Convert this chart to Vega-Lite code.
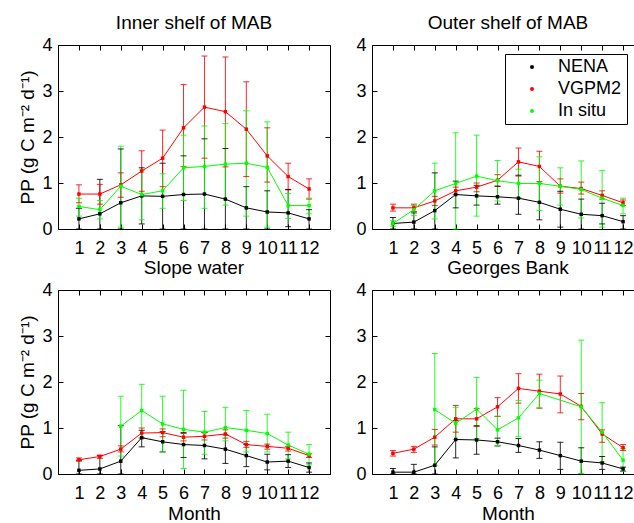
{
"$schema": "https://vega.github.io/schema/vega-lite/v6.json",
"padding": {"left": 18, "top": 13, "right": 0, "bottom": 5},
"background": "white",
"datasets": {
"pp": [
{"r":"I","s":"NENA","m":1,"v":0.22,"lo":0.0,"hi":0.45},
{"r":"I","s":"NENA","m":2,"v":0.33,"lo":0.0,"hi":1.08},
{"r":"I","s":"NENA","m":3,"v":0.57,"lo":0.0,"hi":1.74},
{"r":"I","s":"NENA","m":4,"v":0.72,"lo":0.11,"hi":1.33},
{"r":"I","s":"NENA","m":5,"v":0.71,"lo":0.0,"hi":1.43},
{"r":"I","s":"NENA","m":6,"v":0.75,"lo":0.0,"hi":1.59},
{"r":"I","s":"NENA","m":7,"v":0.76,"lo":0.0,"hi":1.96},
{"r":"I","s":"NENA","m":8,"v":0.65,"lo":0.0,"hi":1.75},
{"r":"I","s":"NENA","m":9,"v":0.46,"lo":0.0,"hi":0.92},
{"r":"I","s":"NENA","m":10,"v":0.37,"lo":0.0,"hi":0.83},
{"r":"I","s":"NENA","m":11,"v":0.35,"lo":0.05,"hi":0.86},
{"r":"I","s":"NENA","m":12,"v":0.22,"lo":0.0,"hi":0.42},
{"r":"I","s":"VGPM2","m":1,"v":0.76,"lo":0.57,"hi":0.96},
{"r":"I","s":"VGPM2","m":2,"v":0.76,"lo":0.54,"hi":0.97},
{"r":"I","s":"VGPM2","m":3,"v":0.96,"lo":0.69,"hi":1.22},
{"r":"I","s":"VGPM2","m":4,"v":1.26,"lo":0.82,"hi":1.70},
{"r":"I","s":"VGPM2","m":5,"v":1.54,"lo":0.92,"hi":2.15},
{"r":"I","s":"VGPM2","m":6,"v":2.20,"lo":1.36,"hi":3.14},
{"r":"I","s":"VGPM2","m":7,"v":2.65,"lo":1.54,"hi":3.76},
{"r":"I","s":"VGPM2","m":8,"v":2.55,"lo":1.35,"hi":3.74},
{"r":"I","s":"VGPM2","m":9,"v":2.17,"lo":1.14,"hi":3.20},
{"r":"I","s":"VGPM2","m":10,"v":1.59,"lo":1.02,"hi":2.20},
{"r":"I","s":"VGPM2","m":11,"v":1.14,"lo":0.85,"hi":1.43},
{"r":"I","s":"VGPM2","m":12,"v":0.87,"lo":0.65,"hi":1.09},
{"r":"I","s":"In situ","m":1,"v":0.49,"lo":0.28,"hi":0.67},
{"r":"I","s":"In situ","m":2,"v":0.42,"lo":0.22,"hi":0.62},
{"r":"I","s":"In situ","m":3,"v":0.93,"lo":0.04,"hi":1.80},
{"r":"I","s":"In situ","m":4,"v":0.75,"lo":0.20,"hi":1.28},
{"r":"I","s":"In situ","m":5,"v":0.83,"lo":0.45,"hi":1.20},
{"r":"I","s":"In situ","m":6,"v":1.33,"lo":0.62,"hi":2.04},
{"r":"I","s":"In situ","m":7,"v":1.36,"lo":0.45,"hi":2.24},
{"r":"I","s":"In situ","m":8,"v":1.41,"lo":0.52,"hi":2.29},
{"r":"I","s":"In situ","m":9,"v":1.43,"lo":0.28,"hi":2.57},
{"r":"I","s":"In situ","m":10,"v":1.34,"lo":0.04,"hi":2.33},
{"r":"I","s":"In situ","m":11,"v":0.51,"lo":0.23,"hi":0.77},
{"r":"I","s":"In situ","m":12,"v":0.51,"lo":0.33,"hi":0.67},
{"r":"O","s":"NENA","m":1,"v":0.12,"lo":0.0,"hi":0.25},
{"r":"O","s":"NENA","m":2,"v":0.15,"lo":0.0,"hi":0.35},
{"r":"O","s":"NENA","m":3,"v":0.40,"lo":0.0,"hi":1.22},
{"r":"O","s":"NENA","m":4,"v":0.75,"lo":0.46,"hi":1.04},
{"r":"O","s":"NENA","m":5,"v":0.72,"lo":0.52,"hi":0.95},
{"r":"O","s":"NENA","m":6,"v":0.70,"lo":0.54,"hi":0.93},
{"r":"O","s":"NENA","m":7,"v":0.67,"lo":0.32,"hi":1.17},
{"r":"O","s":"NENA","m":8,"v":0.58,"lo":0.20,"hi":0.99},
{"r":"O","s":"NENA","m":9,"v":0.43,"lo":0.04,"hi":0.82},
{"r":"O","s":"NENA","m":10,"v":0.32,"lo":0.0,"hi":0.65},
{"r":"O","s":"NENA","m":11,"v":0.29,"lo":0.11,"hi":0.56},
{"r":"O","s":"NENA","m":12,"v":0.16,"lo":0.0,"hi":0.29},
{"r":"O","s":"VGPM2","m":1,"v":0.46,"lo":0.39,"hi":0.54},
{"r":"O","s":"VGPM2","m":2,"v":0.46,"lo":0.38,"hi":0.54},
{"r":"O","s":"VGPM2","m":3,"v":0.61,"lo":0.51,"hi":0.71},
{"r":"O","s":"VGPM2","m":4,"v":0.83,"lo":0.75,"hi":0.91},
{"r":"O","s":"VGPM2","m":5,"v":0.91,"lo":0.81,"hi":1.00},
{"r":"O","s":"VGPM2","m":6,"v":1.06,"lo":0.93,"hi":1.18},
{"r":"O","s":"VGPM2","m":7,"v":1.46,"lo":1.15,"hi":1.76},
{"r":"O","s":"VGPM2","m":8,"v":1.36,"lo":1.03,"hi":1.69},
{"r":"O","s":"VGPM2","m":9,"v":0.93,"lo":0.78,"hi":1.09},
{"r":"O","s":"VGPM2","m":10,"v":0.88,"lo":0.76,"hi":1.02},
{"r":"O","s":"VGPM2","m":11,"v":0.73,"lo":0.65,"hi":0.83},
{"r":"O","s":"VGPM2","m":12,"v":0.57,"lo":0.51,"hi":0.63},
{"r":"O","s":"In situ","m":1,"v":0.12,"lo":0.06,"hi":0.18},
{"r":"O","s":"In situ","m":2,"v":0.42,"lo":0.29,"hi":0.51},
{"r":"O","s":"In situ","m":3,"v":0.83,"lo":0.22,"hi":1.43},
{"r":"O","s":"In situ","m":4,"v":0.99,"lo":0.0,"hi":2.09},
{"r":"O","s":"In situ","m":5,"v":1.15,"lo":0.28,"hi":2.04},
{"r":"O","s":"In situ","m":6,"v":1.05,"lo":0.61,"hi":1.49},
{"r":"O","s":"In situ","m":7,"v":0.99,"lo":0.68,"hi":1.30},
{"r":"O","s":"In situ","m":8,"v":0.99,"lo":0.40,"hi":1.57},
{"r":"O","s":"In situ","m":9,"v":0.93,"lo":0.52,"hi":1.33},
{"r":"O","s":"In situ","m":10,"v":0.86,"lo":0.24,"hi":1.48},
{"r":"O","s":"In situ","m":11,"v":0.67,"lo":0.04,"hi":1.27},
{"r":"O","s":"In situ","m":12,"v":0.51,"lo":0.33,"hi":0.67},
{"r":"S","s":"NENA","m":1,"v":0.08,"lo":0.0,"hi":0.30},
{"r":"S","s":"NENA","m":2,"v":0.11,"lo":0.0,"hi":0.40},
{"r":"S","s":"NENA","m":3,"v":0.28,"lo":0.0,"hi":1.05},
{"r":"S","s":"NENA","m":4,"v":0.79,"lo":0.59,"hi":0.95},
{"r":"S","s":"NENA","m":5,"v":0.70,"lo":0.48,"hi":0.92},
{"r":"S","s":"NENA","m":6,"v":0.64,"lo":0.36,"hi":0.90},
{"r":"S","s":"NENA","m":7,"v":0.62,"lo":0.33,"hi":0.90},
{"r":"S","s":"NENA","m":8,"v":0.54,"lo":0.23,"hi":0.85},
{"r":"S","s":"NENA","m":9,"v":0.40,"lo":0.16,"hi":0.64},
{"r":"S","s":"NENA","m":10,"v":0.26,"lo":0.09,"hi":0.43},
{"r":"S","s":"NENA","m":11,"v":0.28,"lo":0.14,"hi":0.42},
{"r":"S","s":"NENA","m":12,"v":0.14,"lo":0.04,"hi":0.24},
{"r":"S","s":"VGPM2","m":1,"v":0.31,"lo":0.28,"hi":0.35},
{"r":"S","s":"VGPM2","m":2,"v":0.38,"lo":0.34,"hi":0.41},
{"r":"S","s":"VGPM2","m":3,"v":0.54,"lo":0.48,"hi":0.61},
{"r":"S","s":"VGPM2","m":4,"v":0.89,"lo":0.78,"hi":1.00},
{"r":"S","s":"VGPM2","m":5,"v":0.90,"lo":0.81,"hi":0.98},
{"r":"S","s":"VGPM2","m":6,"v":0.80,"lo":0.72,"hi":0.88},
{"r":"S","s":"VGPM2","m":7,"v":0.82,"lo":0.74,"hi":0.90},
{"r":"S","s":"VGPM2","m":8,"v":0.87,"lo":0.78,"hi":0.96},
{"r":"S","s":"VGPM2","m":9,"v":0.64,"lo":0.58,"hi":0.71},
{"r":"S","s":"VGPM2","m":10,"v":0.60,"lo":0.54,"hi":0.65},
{"r":"S","s":"VGPM2","m":11,"v":0.56,"lo":0.50,"hi":0.60},
{"r":"S","s":"VGPM2","m":12,"v":0.40,"lo":0.36,"hi":0.44},
{"r":"S","s":"In situ","m":3,"v":1.04,"lo":0.39,"hi":1.69},
{"r":"S","s":"In situ","m":4,"v":1.38,"lo":0.79,"hi":1.95},
{"r":"S","s":"In situ","m":5,"v":1.09,"lo":0.48,"hi":1.69},
{"r":"S","s":"In situ","m":6,"v":0.97,"lo":0.12,"hi":1.82},
{"r":"S","s":"In situ","m":7,"v":0.91,"lo":0.43,"hi":1.36},
{"r":"S","s":"In situ","m":8,"v":1.01,"lo":0.72,"hi":1.45},
{"r":"S","s":"In situ","m":9,"v":0.95,"lo":0.48,"hi":1.38},
{"r":"S","s":"In situ","m":10,"v":0.88,"lo":0.48,"hi":1.30},
{"r":"S","s":"In situ","m":11,"v":0.63,"lo":0.33,"hi":0.91},
{"r":"S","s":"In situ","m":12,"v":0.43,"lo":0.20,"hi":0.64},
{"r":"G","s":"NENA","m":1,"v":0.04,"lo":0.0,"hi":0.12},
{"r":"G","s":"NENA","m":2,"v":0.04,"lo":0.0,"hi":0.21},
{"r":"G","s":"NENA","m":3,"v":0.19,"lo":0.0,"hi":0.59},
{"r":"G","s":"NENA","m":4,"v":0.75,"lo":0.35,"hi":1.16},
{"r":"G","s":"NENA","m":5,"v":0.74,"lo":0.43,"hi":1.05},
{"r":"G","s":"NENA","m":6,"v":0.70,"lo":0.61,"hi":0.78},
{"r":"G","s":"NENA","m":7,"v":0.62,"lo":0.47,"hi":0.77},
{"r":"G","s":"NENA","m":8,"v":0.52,"lo":0.34,"hi":0.70},
{"r":"G","s":"NENA","m":9,"v":0.40,"lo":0.10,"hi":0.69},
{"r":"G","s":"NENA","m":10,"v":0.28,"lo":0.0,"hi":0.57},
{"r":"G","s":"NENA","m":11,"v":0.24,"lo":0.10,"hi":0.38},
{"r":"G","s":"NENA","m":12,"v":0.11,"lo":0.06,"hi":0.15},
{"r":"G","s":"VGPM2","m":1,"v":0.45,"lo":0.39,"hi":0.51},
{"r":"G","s":"VGPM2","m":2,"v":0.54,"lo":0.47,"hi":0.60},
{"r":"G","s":"VGPM2","m":3,"v":0.80,"lo":0.63,"hi":0.97},
{"r":"G","s":"VGPM2","m":4,"v":1.20,"lo":0.91,"hi":1.49},
{"r":"G","s":"VGPM2","m":5,"v":1.20,"lo":1.03,"hi":1.42},
{"r":"G","s":"VGPM2","m":6,"v":1.46,"lo":1.25,"hi":1.66},
{"r":"G","s":"VGPM2","m":7,"v":1.86,"lo":1.54,"hi":2.18},
{"r":"G","s":"VGPM2","m":8,"v":1.80,"lo":1.43,"hi":2.17},
{"r":"G","s":"VGPM2","m":9,"v":1.74,"lo":1.33,"hi":2.13},
{"r":"G","s":"VGPM2","m":10,"v":1.47,"lo":1.18,"hi":1.75},
{"r":"G","s":"VGPM2","m":11,"v":0.87,"lo":0.69,"hi":0.96},
{"r":"G","s":"VGPM2","m":12,"v":0.57,"lo":0.51,"hi":0.64},
{"r":"G","s":"In situ","m":3,"v":1.40,"lo":0.19,"hi":2.62},
{"r":"G","s":"In situ","m":4,"v":1.10,"lo":0.75,"hi":1.45},
{"r":"G","s":"In situ","m":5,"v":1.41,"lo":0.77,"hi":2.10},
{"r":"G","s":"In situ","m":6,"v":0.96,"lo":0.62,"hi":1.26},
{"r":"G","s":"In situ","m":7,"v":1.22,"lo":0.81,"hi":1.60},
{"r":"G","s":"In situ","m":8,"v":1.75,"lo":1.44,"hi":2.04},
{"r":"G","s":"In situ","m":10,"v":1.46,"lo":0.01,"hi":2.91},
{"r":"G","s":"In situ","m":11,"v":0.91,"lo":0.26,"hi":1.55},
{"r":"G","s":"In situ","m":12,"v":0.30,"lo":0.06,"hi":0.55}
]
},
"data": {"name": "pp"},
"columns": 2,
"spacing": {"row": 0, "column": 24},
"resolve": {"legend": {"color": "independent"}},
"concat": [
{
 "width": 272, "height": 184,
 "title": "Inner shelf of MAB",
 "transform": [{"filter": "datum.r == 'I'"}],
 "layer": [
  {"mark": {"type": "rule", "strokeWidth": 1, "opacity": 0.85},
   "encoding": {
    "x": {"field": "m", "type": "quantitative", "scale": {"domain": [0, 13], "nice": false}, "axis": {"values": [1,2,3,4,5,6,7,8,9,10,11,12], "title": null}},
    "y": {"field": "lo", "type": "quantitative", "scale": {"domain": [0, 4], "nice": false}, "axis": {"values": [0,1,2,3,4], "title": "PP (g C m⁻² d⁻¹)"}},
    "y2": {"field": "hi"},
    "stroke": {"field": "s", "type": "nominal", "scale": {"domain": ["NENA","VGPM2","In situ"], "range": ["#000000","#ff0000","#00ff00"]}, "legend": null}}},
  {"mark": {"type": "tick", "orient": "horizontal", "size": 6, "thickness": 1, "opacity": 0.85},
   "encoding": {
    "x": {"field": "m", "type": "quantitative", "axis": {"orient": "top", "values": [1,2,3,4,5,6,7,8,9,10,11,12], "labels": false, "title": null, "domain": false}},
    "y": {"field": "lo", "type": "quantitative", "axis": {"orient": "right", "values": [0,1,2,3,4], "labels": false, "title": null, "domain": false}},
    "fill": {"field": "s", "type": "nominal", "scale": {"domain": ["NENA","VGPM2","In situ"], "range": ["#000000","#ff0000","#00ff00"]}, "legend": null}}},
  {"mark": {"type": "tick", "orient": "horizontal", "size": 6, "thickness": 1, "opacity": 0.85},
   "encoding": {
    "x": {"field": "m", "type": "quantitative", "axis": null},
    "y": {"field": "hi", "type": "quantitative", "axis": null},
    "fill": {"field": "s", "type": "nominal", "legend": null}}},
  {"mark": {"type": "line", "strokeWidth": 1},
   "encoding": {
    "x": {"field": "m", "type": "quantitative", "axis": null},
    "y": {"field": "v", "type": "quantitative", "axis": null},
    "stroke": {"field": "s", "type": "nominal", "legend": null}}},
  {"mark": {"type": "point", "filled": true, "shape": "square", "size": 12, "opacity": 1},
   "encoding": {
    "x": {"field": "m", "type": "quantitative", "axis": null},
    "y": {"field": "v", "type": "quantitative", "axis": null},
    "color": {"field": "s", "type": "nominal", "scale": {"domain": ["NENA","VGPM2","In situ"], "range": ["#000000","#ff0000","#00ff00"]}, "legend": null}}}
 ],
 "resolve": {"axis": {"x": "independent", "y": "independent"}}
},
{
 "width": 272, "height": 184,
 "title": "Outer shelf of MAB",
 "transform": [{"filter": "datum.r == 'O'"}],
 "layer": [
  {"mark": {"type": "rule", "strokeWidth": 1, "opacity": 0.85},
   "encoding": {
    "x": {"field": "m", "type": "quantitative", "scale": {"domain": [0, 13], "nice": false}, "axis": {"values": [1,2,3,4,5,6,7,8,9,10,11,12], "title": null}},
    "y": {"field": "lo", "type": "quantitative", "scale": {"domain": [0, 4], "nice": false}, "axis": {"values": [0,1,2,3,4], "title": null}},
    "y2": {"field": "hi"},
    "stroke": {"field": "s", "type": "nominal", "legend": null}}},
  {"mark": {"type": "tick", "orient": "horizontal", "size": 6, "thickness": 1, "opacity": 0.85},
   "encoding": {
    "x": {"field": "m", "type": "quantitative", "axis": {"orient": "top", "values": [1,2,3,4,5,6,7,8,9,10,11,12], "labels": false, "title": null, "domain": false}},
    "y": {"field": "lo", "type": "quantitative", "axis": {"orient": "right", "values": [0,1,2,3,4], "labels": false, "title": null, "domain": false}},
    "fill": {"field": "s", "type": "nominal", "legend": null}}},
  {"mark": {"type": "tick", "orient": "horizontal", "size": 6, "thickness": 1, "opacity": 0.85},
   "encoding": {
    "x": {"field": "m", "type": "quantitative", "axis": null},
    "y": {"field": "hi", "type": "quantitative", "axis": null},
    "fill": {"field": "s", "type": "nominal", "legend": null}}},
  {"mark": {"type": "line", "strokeWidth": 1},
   "encoding": {
    "x": {"field": "m", "type": "quantitative", "axis": null},
    "y": {"field": "v", "type": "quantitative", "axis": null},
    "stroke": {"field": "s", "type": "nominal", "legend": null}}},
  {"mark": {"type": "point", "filled": true, "shape": "square", "size": 12, "opacity": 1},
   "encoding": {
    "x": {"field": "m", "type": "quantitative", "axis": null},
    "y": {"field": "v", "type": "quantitative", "axis": null},
    "color": {"field": "s", "type": "nominal", "legend": {"title": "\u00a0", "titleOrient": "right", "titlePadding": 2, "titleFontSize": 18, "orient": "none", "legendX": 133, "legendY": 9}}}}
 ],
 "resolve": {"axis": {"x": "independent", "y": "independent"}}
},
{
 "width": 272, "height": 184,
 "title": "Slope water",
 "transform": [{"filter": "datum.r == 'S'"}],
 "layer": [
  {"mark": {"type": "rule", "strokeWidth": 1, "opacity": 0.85},
   "encoding": {
    "x": {"field": "m", "type": "quantitative", "scale": {"domain": [0, 13], "nice": false}, "axis": {"values": [1,2,3,4,5,6,7,8,9,10,11,12], "title": "Month"}},
    "y": {"field": "lo", "type": "quantitative", "scale": {"domain": [0, 4], "nice": false}, "axis": {"values": [0,1,2,3,4], "title": "PP (g C m⁻² d⁻¹)"}},
    "y2": {"field": "hi"},
    "stroke": {"field": "s", "type": "nominal", "legend": null}}},
  {"mark": {"type": "tick", "orient": "horizontal", "size": 6, "thickness": 1, "opacity": 0.85},
   "encoding": {
    "x": {"field": "m", "type": "quantitative", "axis": {"orient": "top", "values": [1,2,3,4,5,6,7,8,9,10,11,12], "labels": false, "title": null, "domain": false}},
    "y": {"field": "lo", "type": "quantitative", "axis": {"orient": "right", "values": [0,1,2,3,4], "labels": false, "title": null, "domain": false}},
    "fill": {"field": "s", "type": "nominal", "legend": null}}},
  {"mark": {"type": "tick", "orient": "horizontal", "size": 6, "thickness": 1, "opacity": 0.85},
   "encoding": {
    "x": {"field": "m", "type": "quantitative", "axis": null},
    "y": {"field": "hi", "type": "quantitative", "axis": null},
    "fill": {"field": "s", "type": "nominal", "legend": null}}},
  {"mark": {"type": "line", "strokeWidth": 1},
   "encoding": {
    "x": {"field": "m", "type": "quantitative", "axis": null},
    "y": {"field": "v", "type": "quantitative", "axis": null},
    "stroke": {"field": "s", "type": "nominal", "legend": null}}},
  {"mark": {"type": "point", "filled": true, "shape": "square", "size": 12, "opacity": 1},
   "encoding": {
    "x": {"field": "m", "type": "quantitative", "axis": null},
    "y": {"field": "v", "type": "quantitative", "axis": null},
    "color": {"field": "s", "type": "nominal", "legend": null}}}
 ],
 "resolve": {"axis": {"x": "independent", "y": "independent"}}
},
{
 "width": 272, "height": 184,
 "title": "Georges Bank",
 "transform": [{"filter": "datum.r == 'G'"}],
 "layer": [
  {"mark": {"type": "rule", "strokeWidth": 1, "opacity": 0.85},
   "encoding": {
    "x": {"field": "m", "type": "quantitative", "scale": {"domain": [0, 13], "nice": false}, "axis": {"values": [1,2,3,4,5,6,7,8,9,10,11,12], "title": "Month"}},
    "y": {"field": "lo", "type": "quantitative", "scale": {"domain": [0, 4], "nice": false}, "axis": {"values": [0,1,2,3,4], "title": null}},
    "y2": {"field": "hi"},
    "stroke": {"field": "s", "type": "nominal", "legend": null}}},
  {"mark": {"type": "tick", "orient": "horizontal", "size": 6, "thickness": 1, "opacity": 0.85},
   "encoding": {
    "x": {"field": "m", "type": "quantitative", "axis": {"orient": "top", "values": [1,2,3,4,5,6,7,8,9,10,11,12], "labels": false, "title": null, "domain": false}},
    "y": {"field": "lo", "type": "quantitative", "axis": {"orient": "right", "values": [0,1,2,3,4], "labels": false, "title": null, "domain": false}},
    "fill": {"field": "s", "type": "nominal", "legend": null}}},
  {"mark": {"type": "tick", "orient": "horizontal", "size": 6, "thickness": 1, "opacity": 0.85},
   "encoding": {
    "x": {"field": "m", "type": "quantitative", "axis": null},
    "y": {"field": "hi", "type": "quantitative", "axis": null},
    "fill": {"field": "s", "type": "nominal", "legend": null}}},
  {"mark": {"type": "line", "strokeWidth": 1},
   "encoding": {
    "x": {"field": "m", "type": "quantitative", "axis": null},
    "y": {"field": "v", "type": "quantitative", "axis": null},
    "stroke": {"field": "s", "type": "nominal", "legend": null}}},
  {"mark": {"type": "point", "filled": true, "shape": "square", "size": 12, "opacity": 1},
   "encoding": {
    "x": {"field": "m", "type": "quantitative", "axis": null},
    "y": {"field": "v", "type": "quantitative", "axis": null},
    "color": {"field": "s", "type": "nominal", "legend": null}}}
 ],
 "resolve": {"axis": {"x": "independent", "y": "independent"}}
}
],
"config": {
 "font": "Liberation Sans",
 "view": {"stroke": "black", "strokeWidth": 1},
 "axis": {"grid": false, "domainColor": "black", "tickColor": "black", "labelColor": "black", "titleColor": "black", "labelFont": "Liberation Sans", "titleFont": "Liberation Sans", "labelFontSize": 18, "titleFontSize": 19, "titleFontWeight": "normal", "tickSize": -5, "domainWidth": 1},
 "axisX": {"labelPadding": 15, "titlePadding": 2},
 "axisY": {"labelPadding": 11, "titlePadding": 4},
 "title": {"font": "Liberation Sans", "fontSize": 19, "fontWeight": "normal", "color": "black", "offset": 3},
 "legend": {"labelFont": "Liberation Sans", "labelFontSize": 18, "labelColor": "black", "symbolType": "circle", "symbolSize": 16, "symbolStrokeWidth": 0, "strokeColor": "black", "fillColor": "white", "padding": 4, "rowPadding": 4, "symbolOffset": 14, "labelOffset": 17, "cornerRadius": 0}
}
}
